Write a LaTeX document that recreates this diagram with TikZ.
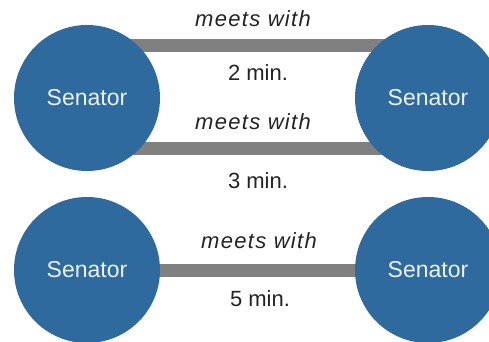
\documentclass[tikz,border=0pt]{standalone}
\usepackage{fontspec}
\setmainfont{Liberation Sans}
\newfontfamily\trackedfont{Liberation Sans}[LetterSpace=6]
\usetikzlibrary{backgrounds}
\definecolor{senblue}{RGB}{46,106,158}
\definecolor{bargray}{RGB}{128,128,128}
\definecolor{labeltext}{RGB}{35,35,35}
\definecolor{sentext}{RGB}{235,242,248}
\tikzset{
  senator/.style={circle, fill=senblue, draw=none, minimum size=146pt, inner sep=0pt,
    text=sentext, font=\fontsize{23}{26}\selectfont},
  meetbar/.style={draw=bargray, line width=13pt},
  lbl/.style={text=labeltext, font=\fontsize{22}{25}\selectfont, inner sep=0pt},
  verb/.style={lbl, font=\trackedfont\fontsize{22}{25}\selectfont\itshape}
}
\begin{document}
\begin{tikzpicture}[x=1pt,y=1pt]
  \useasboundingbox (0,0) rectangle (489,341);
  % senators
  \node[senator] (tl) at (87,243) {Senator};
  \node[senator] (tr) at (428,243) {Senator};
  \node[senator] (bl) at (87,71) {Senator};
  \node[senator] (br) at (428,71) {Senator};
  % meetings, drawn under the circles
  \begin{scope}[on background layer]
    \draw[meetbar] ([yshift=53pt]tl.center) -- ([yshift=53pt]tr.center);
    \draw[meetbar] ([yshift=-50pt]tl.center) -- ([yshift=-50pt]tr.center);
    \draw[meetbar] (bl.center) -- (br.center);
  \end{scope}
  % labels
  \node[verb] (m1) at (253,322) {meets with};
  \node[lbl] (d1) at (258,268) {2 min.};
  \node[verb] (m2) at (253,219) {meets with};
  \node[lbl] (d2) at (258,160) {3 min.};
  \node[verb] (m3) at (259,100) {meets with};
  \node[lbl] (d3) at (260,42) {5 min.};
\end{tikzpicture}
\end{document}
